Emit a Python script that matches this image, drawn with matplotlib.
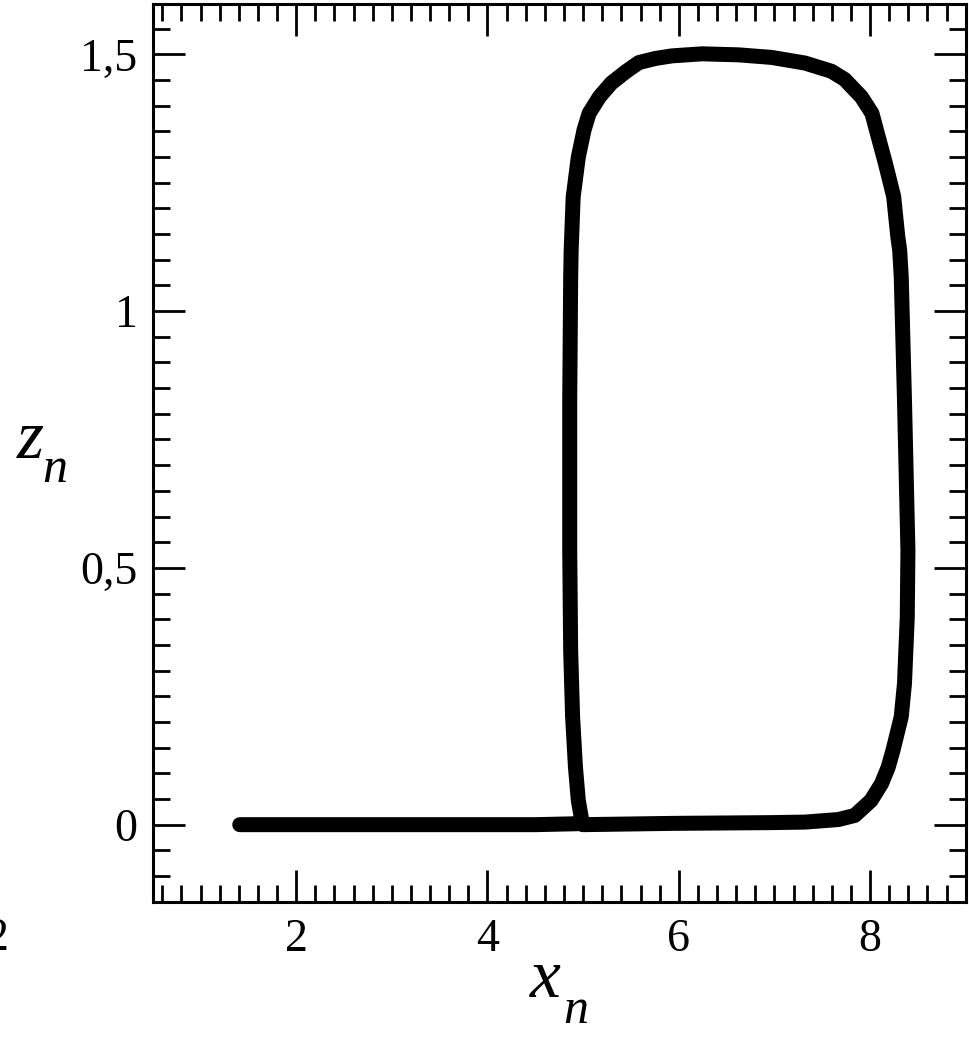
import numpy as np
import matplotlib
matplotlib.use('Agg')
import matplotlib.pyplot as plt
from matplotlib.ticker import MultipleLocator, FixedLocator

# trajectory: tail along z=0, then the loop
x_n = [1.41, 2.5, 3.5, 4.5, 4.98,
       4.98, 4.95, 4.92, 4.89, 4.87, 4.86, 4.86, 4.87, 4.875, 4.896,
       4.95, 5.01, 5.0625, 5.17, 5.295, 5.445, 5.583, 5.757, 5.93,
       6.243, 6.625, 6.97, 7.32, 7.597, 7.736, 7.91, 8.02, 8.066, 8.16,
       8.247, 8.29, 8.31, 8.326, 8.36, 8.396, 8.389, 8.36, 8.326, 8.24,
       8.19, 8.12, 8.01, 7.84, 7.67, 7.32, 6.97, 5.93, 5.0]
z_n = [0.0, 0.0, 0.0, 0.0, 0.002,
       0.015, 0.047, 0.112, 0.21, 0.339, 0.534, 0.826, 1.066, 1.118, 1.222,
       1.30, 1.353, 1.385, 1.417, 1.444, 1.466, 1.484, 1.492, 1.497,
       1.501, 1.499, 1.494, 1.483, 1.467, 1.451, 1.417, 1.385, 1.353, 1.288,
       1.223, 1.145, 1.118, 1.067, 0.826, 0.534, 0.404, 0.275, 0.21, 0.145,
       0.112, 0.080, 0.047, 0.018, 0.010, 0.005, 0.004, 0.0025, 0.0]

xticks = [2, 4, 6, 8]
xticklabels = ['2', '4', '6', '8']
yticks = [0, 0.5, 1, 1.5]
yticklabels = ['0', '0,5', '1', '1,5']

plt.rcParams['font.family'] = ['Liberation Serif', 'DejaVu Serif']

fig = plt.figure(figsize=(9.69, 10.38), dpi=100)
ax = fig.add_axes([152.7/969, 1-901.7/1038, (965.7-152.7)/969, (901.7-4)/1038])

ax.plot(x_n, z_n, color='black', lw=10.8, solid_capstyle='round', solid_joinstyle='round')

ax.set_xlim(0.5, 9.0)
ax.set_ylim(-0.15, 1.598)

ax.xaxis.set_major_locator(FixedLocator(xticks))
ax.set_xticklabels(xticklabels)
ax.xaxis.set_minor_locator(MultipleLocator(0.2))
ax.yaxis.set_major_locator(FixedLocator(yticks))
ax.set_yticklabels(yticklabels)
ax.yaxis.set_minor_locator(MultipleLocator(0.05))

ax.tick_params(which='both', direction='in', top=True, right=True, width=2, labelsize=33)
ax.tick_params(axis='x', which='major', length=23, pad=12)
ax.tick_params(axis='y', which='major', length=23, pad=11)
ax.tick_params(which='minor', length=12)
for s in ax.spines.values():
    s.set_linewidth(2.2)

# axis labels (large italic letters with a low subscript)
W, H = 969, 1038
fig.text(17/W, 1-458/H, 'z', fontsize=50, style='italic', ha='left', va='baseline')
fig.text(42/W, 1-482/H, 'n', fontsize=36, style='italic', ha='left', va='baseline')
fig.text(530/W, 1-997/H, 'x', fontsize=50, style='italic', ha='left', va='baseline')
fig.text(563/W, 1-1023/H, 'n', fontsize=36, style='italic', ha='left', va='baseline')

# clipped label from a neighbouring panel at the left edge
fig.text(-3/W, 1-950/H, '2', fontsize=33, ha='center', va='baseline')

fig.savefig('out.png', dpi=100)
